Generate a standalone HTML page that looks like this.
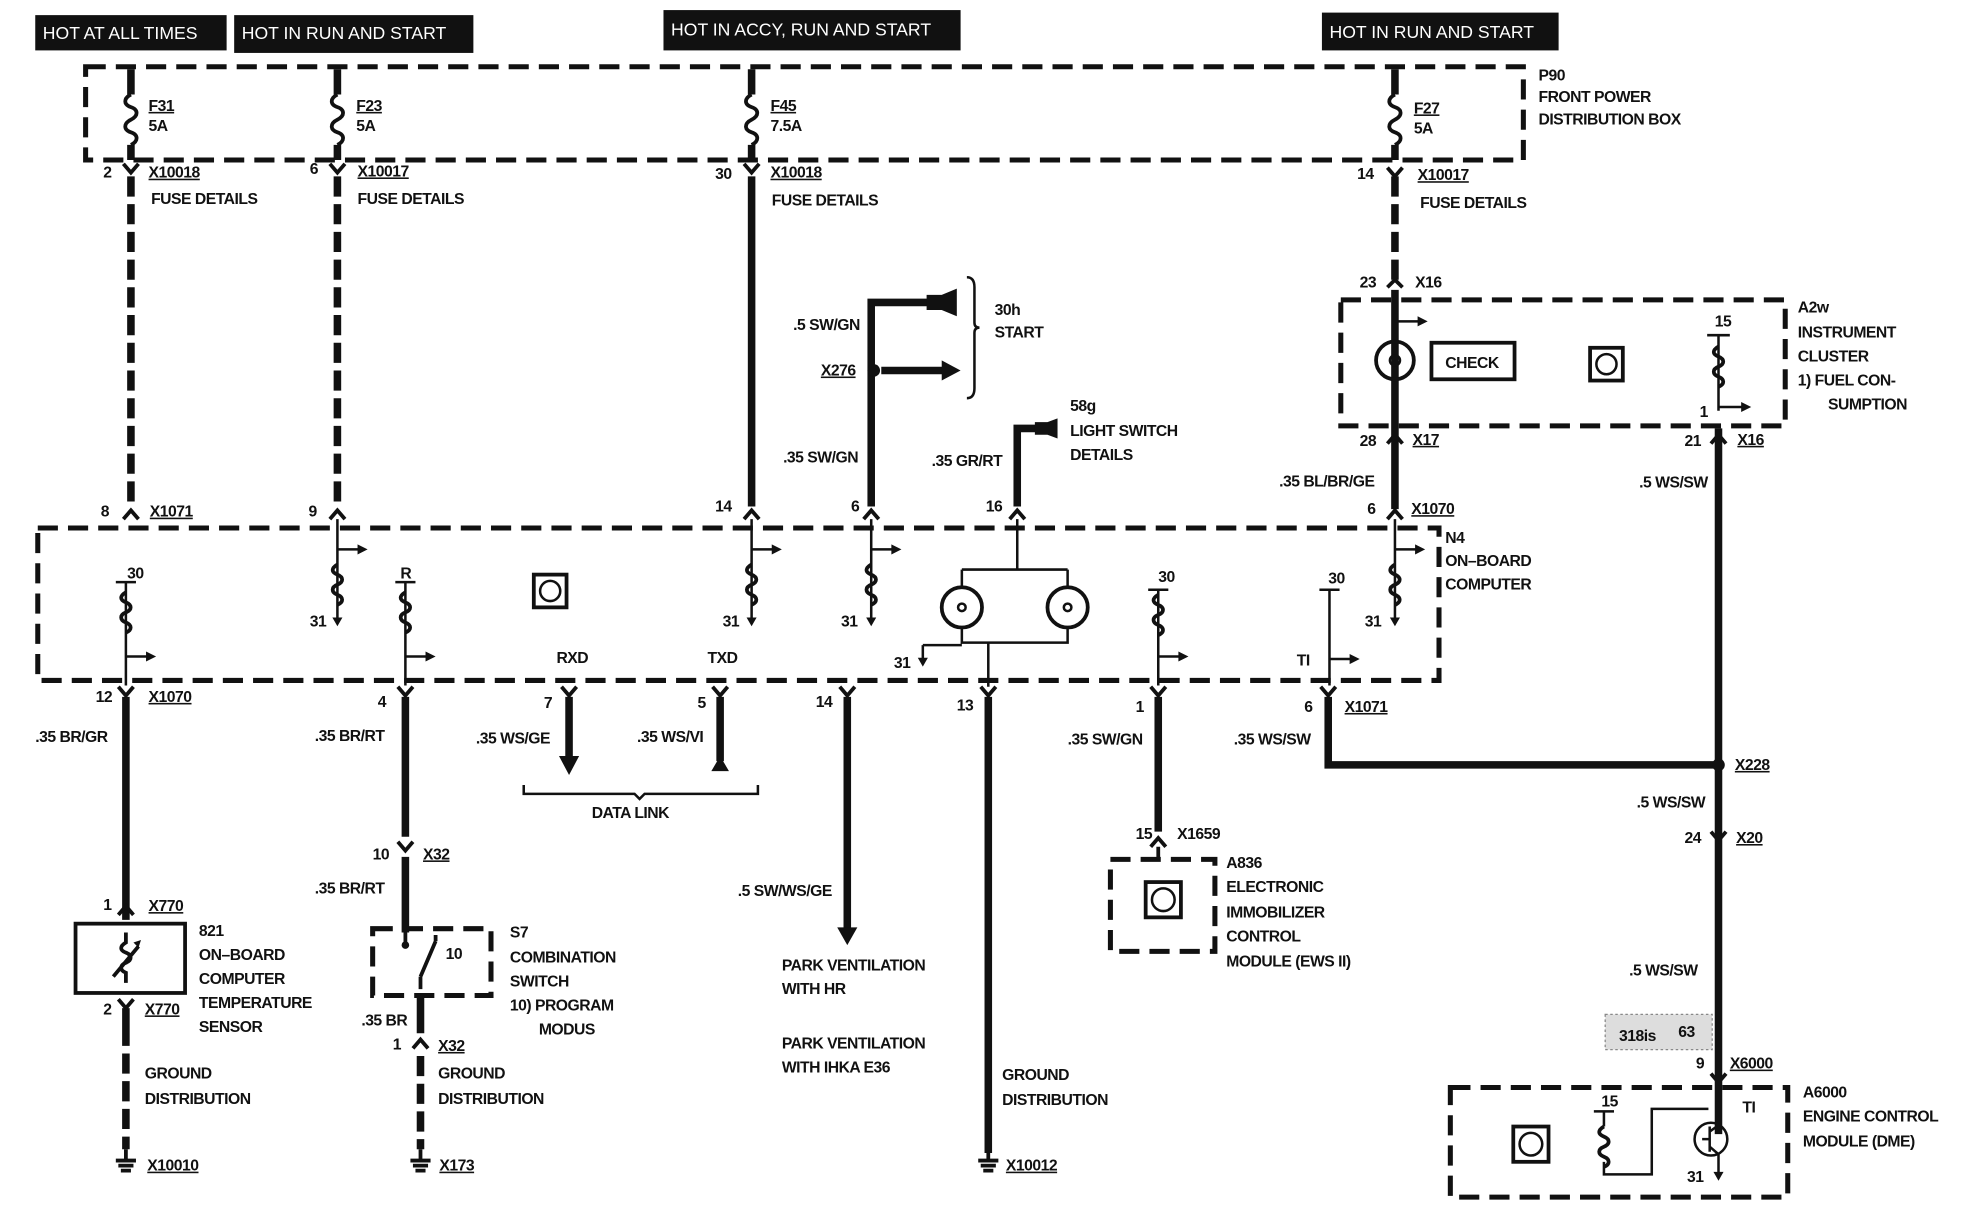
<!DOCTYPE html>
<html><head><meta charset="utf-8"><style>
html,body{margin:0;padding:0;background:#fff;}
svg{display:block;}
text{font-family:"Liberation Sans",Arial,sans-serif;font-size:12.5px;font-weight:bold;fill:#111;letter-spacing:-0.4px;}
.h{fill:#fff;font-size:14px;font-weight:normal;letter-spacing:0;}
.w{stroke:#111;stroke-width:6;fill:none;}
.wd{stroke:#111;stroke-width:6;fill:none;stroke-dasharray:16,6;}
.bx{stroke:#111;stroke-width:4;fill:none;stroke-dasharray:16,8;}
.t{stroke:#111;stroke-width:2;fill:none;}
.u{text-decoration:underline;}
</style></head><body>
<svg width="1964" height="1216" viewBox="0 0 1560 965" preserveAspectRatio="none" xmlns="http://www.w3.org/2000/svg">
<rect width="1560" height="965" fill="#fff"/>
<!-- headers -->
<rect x="28" y="12" width="152" height="28" fill="#111"/><text class="h" x="34" y="31">HOT AT ALL TIMES</text>
<rect x="186" y="12" width="190" height="30" fill="#111"/><text class="h" x="192" y="31">HOT IN RUN AND START</text>
<rect x="527" y="8" width="236" height="32" fill="#111"/><text class="h" x="533" y="28">HOT IN ACCY, RUN AND START</text>
<rect x="1050" y="10" width="188" height="30" fill="#111"/><text class="h" x="1056" y="30">HOT IN RUN AND START</text>
<!-- boxes -->
<rect class="bx" x="68" y="53" width="1142" height="74"/>
<rect class="bx" x="30" y="419" width="1113" height="121"/>
<rect class="bx" x="1065" y="238" width="353" height="100"/>
<rect class="bx" x="60" y="733" width="87" height="55" style="stroke-dasharray:none;stroke-width:3"/>
<rect class="bx" x="296" y="737" width="94" height="53"/>
<rect class="bx" x="882" y="682" width="83" height="73"/>
<rect class="bx" x="1152" y="863" width="268" height="87"/>
<!-- fuses -->
<g class="w">
<path d="M104 55V75M268 55V75M597 55V75M1108 55V75"/>
<path d="M104 115V127M268 115V127M597 115V127M1108 115V127"/>
</g>
<g class="t" style="stroke-width:3">
<path d="M104 75c-6 3-6 8 0 10s6 7 0 10s-6 8 0 10s6 7 0 10"/>
<path d="M268 75c-6 3-6 8 0 10s6 7 0 10s-6 8 0 10s6 7 0 10"/>
<path d="M597 75c-6 3-6 8 0 10s6 7 0 10s-6 8 0 10s6 7 0 10"/>
<path d="M1108 75c-6 3-6 8 0 10s6 7 0 10s-6 8 0 10s6 7 0 10"/>
</g>
<text x="118" y="88" class="u">F31</text><text x="118" y="104">5A</text>
<text x="283" y="88" class="u">F23</text><text x="283" y="104">5A</text>
<text x="612" y="88" class="u">F45</text><text x="612" y="104">7.5A</text>
<text x="1123" y="90" class="u">F27</text><text x="1123" y="106">5A</text>
<text x="1222" y="64">P90</text><text x="1222" y="81">FRONT POWER</text><text x="1222" y="99">DISTRIBUTION BOX</text>
<!-- fuse-detail connectors -->
<g class="t" style="stroke-width:3">
<path d="M98 130l6 7 6-7M262 130l6 7 6-7M591 130l6 7 6-7M1102 133l6 7 6-7M1102 228l6-6 6 6M1102 352l6-7 6 7M1359 352l6-7 6 7"/>
</g>
<text x="82" y="141">2</text><text x="118" y="141" class="u">X10018</text><text x="120" y="162">FUSE DETAILS</text>
<text x="246" y="138">6</text><text x="284" y="140" class="u">X10017</text><text x="284" y="162">FUSE DETAILS</text>
<text x="568" y="142">30</text><text x="612" y="141" class="u">X10018</text><text x="613" y="163">FUSE DETAILS</text>
<text x="1078" y="142">14</text><text x="1126" y="143" class="u">X10017</text><text x="1128" y="165">FUSE DETAILS</text>
<!-- verticals to N4 -->
<path class="wd" d="M104 140V402"/>
<path class="wd" d="M268 140V402"/>
<path class="w" d="M597 140V402"/>
<path class="wd" d="M1108 140V222"/>
<path class="w" d="M1108 230V404"/>
<!-- top pins of N4 -->
<g class="t" style="stroke-width:3"><path d="M98 412l6-7 6 7M262 412l6-7 6 7M591 412l6-7 6 7M686 412l6-7 6 7M802 412l6-7 6 7M1102 412l6-7 6 7"/></g>
<text x="80" y="410">8</text><text x="119" y="410" class="u">X1071</text>
<text x="245" y="410">9</text><text x="568" y="406">14</text><text x="676" y="406">6</text><text x="783" y="406">16</text>
<text x="1086" y="408">6</text><text x="1121" y="408" class="u">X1070</text>
<text x="1148" y="431">N4</text><text x="1148" y="449">ON–BOARD</text><text x="1148" y="468">COMPUTER</text>
<!-- 30h start -->
<path class="w" d="M692 402V240H738"/>
<path d="M736 234h12l12-5v22l-12-5h-12z" fill="#111"/>
<path class="w" d="M700 294h50"/><path d="M748 286l15 8-15 8z" fill="#111"/>
<circle cx="694" cy="294" r="5" fill="#111"/>
<path class="t" d="M768 220q6 0 6 8v28q0 4 4 4q-4 0-4 4v44q0 8-6 8"/>
<text x="790" y="250">30h</text><text x="790" y="268">START</text>
<text x="630" y="262">.5 SW/GN</text><text x="652" y="298" class="u">X276</text>
<text x="622" y="367">.35 SW/GN</text>
<!-- 58g -->
<path class="w" d="M808 402V340H826"/><path d="M822 335h10l8-3v16l-8-3h-10z" fill="#111"/>
<text x="850" y="326">58g</text><text x="850" y="346">LIGHT SWITCH</text><text x="850" y="365">DETAILS</text>
<text x="740" y="370">.35 GR/RT</text>
<!-- A2w content -->
<text x="1080" y="228">23</text><text x="1124" y="228">X16</text>
<path class="t" d="M1108 255h20"/><path d="M1126 251l8 4-8 4z" fill="#111"/>
<circle cx="1108" cy="286" r="15" class="t" style="stroke-width:3"/><circle cx="1108" cy="286" r="4" class="t"/>
<rect x="1137" y="272" width="66" height="29" class="t" style="stroke-width:3"/><text x="1148" y="292">CHECK</text>
<rect x="1263" y="276" width="26" height="26" class="t" style="stroke-width:3"/><circle cx="1276" cy="289" r="8" class="t"/>
<path class="t" d="M1356 266h18M1365 266v60"/>
<path class="t" style="stroke-width:3" d="M1365 275c-5 3-5 6 0 8s5 6 0 8s-5 6 0 8s5 6 0 8"/>
<path class="t" d="M1365 323h20"/><path d="M1383 319l8 4-8 4z" fill="#111"/>
<text x="1362" y="259">15</text><text x="1350" y="331">1</text>
<text x="1428" y="248">A2w</text><text x="1428" y="268">INSTRUMENT</text><text x="1428" y="287">CLUSTER</text><text x="1428" y="306">1)   FUEL CON-</text><text x="1452" y="325">SUMPTION</text>
<text x="1080" y="354">28</text><text x="1122" y="353" class="u">X17</text>
<text x="1338" y="354">21</text><text x="1380" y="353" class="u">X16</text>
<text x="1016" y="386">.35 BL/BR/GE</text><text x="1302" y="387">.5 WS/SW</text>
<path class="w" d="M1365 340V900"/>
<!-- N4 internals -->
<text x="436" y="468" class="t"></text>
<rect x="424" y="456" width="26" height="26" class="t" style="stroke-width:3"/><circle cx="437" cy="469" r="8" class="t"/>
<g class="t">
<path d="M92 462h16M100 462v82M314 462h16M322 462v82M912 468h16M920 468v76M1048 468h16M1056 468v76"/>
<path d="M268 412v80M597 412v80M692 412v80M1108 412v80"/>
</g>
<g class="t" style="stroke-width:3">
<path d="M100 470c-5 3-5 6 0 8s5 6 0 8s-5 6 0 8s5 6 0 8"/>
<path d="M322 470c-5 3-5 6 0 8s5 6 0 8s-5 6 0 8s5 6 0 8"/>
<path d="M920 472c-5 3-5 6 0 8s5 6 0 8s-5 6 0 8s5 6 0 8"/>
<path d="M268 448c-5 3-5 6 0 8s5 6 0 8s-5 6 0 8s5 6 0 8"/>
<path d="M597 448c-5 3-5 6 0 8s5 6 0 8s-5 6 0 8s5 6 0 8"/>
<path d="M692 448c-5 3-5 6 0 8s5 6 0 8s-5 6 0 8s5 6 0 8"/>
<path d="M1108 448c-5 3-5 6 0 8s5 6 0 8s-5 6 0 8s5 6 0 8"/>
</g>
<g class="t"><path d="M100 521h18M322 521h18M920 521h18M1056 523h18M268 436h18M597 436h18M692 436h18M1108 436h18"/></g>
<g fill="#111"><path d="M116 517l8 4-8 4zM338 517l8 4-8 4zM936 517l8 4-8 4zM1072 519l8 4-8 4zM284 432l8 4-8 4zM613 432l8 4-8 4zM708 432l8 4-8 4zM1124 432l8 4-8 4z"/>
<path d="M264 490h8l-4 7zM593 490h8l-4 7zM688 490h8l-4 7zM1104 490h8l-4 7zM729 522h8l-4 7z"/></g>
<text x="101" y="459">30</text><text x="318" y="459">R</text><text x="920" y="462">30</text><text x="1055" y="463">30</text>
<text x="246" y="497">31</text><text x="574" y="497">31</text><text x="668" y="497">31</text><text x="1084" y="497">31</text><text x="710" y="530">31</text>
<text x="442" y="526">RXD</text><text x="562" y="526">TXD</text><text x="1030" y="528">TI</text>
<!-- light bulbs -->
<path class="t" d="M808 412v40M764 452h84M764 452v13M848 452v13M764 498v12H848v-12M785 510v35M733 512v12M733 512h31"/>
<circle cx="764" cy="482" r="16" class="t" style="stroke-width:3"/><circle cx="848" cy="482" r="16" class="t" style="stroke-width:3"/>
<circle cx="764" cy="482" r="3" class="t"/><circle cx="848" cy="482" r="3" class="t"/>
<!-- bottom pins -->
<g class="t" style="stroke-width:3"><path d="M94 545l6 7 6-7M316 545l6 7 6-7M446 545l6 7 6-7M566 545l6 7 6-7M667 545l6 7 6-7M779 545l6 7 6-7M914 545l6 7 6-7M1049 545l6 7 6-7"/></g>
<text x="76" y="557">12</text><text x="118" y="557" class="u">X1070</text>
<text x="300" y="561">4</text><text x="432" y="562">7</text><text x="554" y="562">5</text><text x="648" y="561">14</text><text x="760" y="564">13</text><text x="902" y="565">1</text><text x="1036" y="565">6</text><text x="1068" y="565" class="u">X1071</text>
<path class="w" d="M100 553V730"/><path class="w" d="M322 553V664"/><path class="w" d="M452 553V602"/><path d="M444 600h16l-8 15z" fill="#111"/>
<path class="w" d="M572 553V604"/><path d="M565 612h14l-7-12z" fill="#111"/>
<path class="w" d="M673 553V738"/><path d="M665 736h16l-8 14z" fill="#111"/>
<path class="w" d="M785 553V915"/><path class="w" d="M920 553V660"/>
<path class="w" d="M1055 553V607H1365"/><circle cx="1365" cy="607" r="5" fill="#111"/>
<text x="28" y="589">.35 BR/GR</text><text x="250" y="588">.35 BR/RT</text><text x="378" y="590">.35 WS/GE</text><text x="506" y="589">.35 WS/VI</text><text x="848" y="591">.35 SW/GN</text><text x="980" y="591">.35 WS/SW</text>
<path class="t" d="M416 623v7h88l4 4 4-4h90v-7"/><text x="470" y="649">DATA LINK</text>
<text x="1378" y="611" class="u">X228</text><text x="1300" y="641">.5 WS/SW</text><text x="1338" y="669">24</text><text x="1379" y="669" class="u">X20</text>
<path class="t" style="stroke-width:3" d="M1359 660l6 7 6-7"/>
<!-- temperature sensor -->
<text x="82" y="722">1</text><text x="118" y="723" class="u">X770</text>
<path class="t" style="stroke-width:3" d="M94 726l6 -7 6 7M94 793l6 7 6-7"/>
<path class="t" style="stroke-width:3" d="M100 740v8c-5 3-5 6 0 8s5 6 0 8s-5 6 0 8v8M90 775l20-24"/>
<path d="M106 748l6-2-2 6z" fill="#111"/>
<text x="158" y="743">821</text><text x="158" y="762">ON–BOARD</text><text x="158" y="781">COMPUTER</text><text x="158" y="800">TEMPERATURE</text><text x="158" y="819">SENSOR</text>
<text x="82" y="805">2</text><text x="115" y="805" class="u">X770</text>
<path class="w" d="M100 800V830"/><path class="wd" d="M100 836V912"/>
<text x="115" y="856">GROUND</text><text x="115" y="876">DISTRIBUTION</text>
<path class="t" style="stroke-width:3" d="M100 912v8M92 921h16M94 925h12M96 929h8"/><text x="117" y="929" class="u">X10010</text>
<!-- combination switch -->
<text x="296" y="682">10</text><text x="336" y="682" class="u">X32</text><text x="250" y="709">.35 BR/RT</text>
<path class="t" style="stroke-width:3" d="M316 668l6 7 6-7"/>
<path class="w" d="M322 680V740"/>
<path class="t" style="stroke-width:3" d="M322 740v8M334 775l12-28M346 747v-5M334 775v10"/>
<circle cx="322" cy="750" r="3" fill="#111"/><text x="354" y="761">10</text>
<text x="405" y="744">S7</text><text x="405" y="764">COMBINATION</text><text x="405" y="783">SWITCH</text><text x="405" y="802">10) PROGRAM</text><text x="428" y="821">MODUS</text>
<text x="287" y="814">.35 BR</text><text x="312" y="833">1</text><text x="348" y="834" class="u">X32</text>
<path class="w" d="M334 790V820"/><path class="t" style="stroke-width:3" d="M328 832l6-7 6 7"/><path class="wd" d="M334 838V912"/>
<text x="348" y="856">GROUND</text><text x="348" y="876">DISTRIBUTION</text>
<path class="t" style="stroke-width:3" d="M334 912v8M326 921h16M328 925h12M330 929h8"/><text x="349" y="929" class="u">X173</text>
<!-- park ventilation -->
<text x="586" y="711">.5 SW/WS/GE</text>
<text x="621" y="770">PARK VENTILATION</text><text x="621" y="789">WITH HR</text>
<text x="621" y="832">PARK VENTILATION</text><text x="621" y="851">WITH IHKA E36</text>
<text x="796" y="857">GROUND</text><text x="796" y="877">DISTRIBUTION</text>
<path class="t" style="stroke-width:3" d="M785 915v5M777 921h16M779 925h12M781 929h8"/><text x="799" y="929" class="u">X10012</text>
<!-- A836 -->
<text x="902" y="666">15</text><text x="935" y="666">X1659</text><path class="t" style="stroke-width:3" d="M914 672l6-7 6 7M920 672v10"/>
<rect x="910" y="700" width="28" height="28" class="t" style="stroke-width:3"/><circle cx="924" cy="714" r="9" class="t"/>
<text x="974" y="689">A836</text><text x="974" y="708">ELECTRONIC</text><text x="974" y="728">IMMOBILIZER</text><text x="974" y="747">CONTROL</text><text x="974" y="767">MODULE (EWS II)</text>
<!-- A6000 -->
<text x="1294" y="774">.5 WS/SW</text>
<rect x="1275" y="805" width="85" height="28" fill="#ddd" stroke="#888" stroke-dasharray="2,2"/><text x="1286" y="826">318is</text><text x="1333" y="823">63</text>
<text x="1347" y="848">9</text><text x="1374" y="848" class="u">X6000</text><path class="t" style="stroke-width:3" d="M1359 852l6 7 6-7"/>
<rect x="1202" y="894" width="28" height="28" class="t" style="stroke-width:3"/><circle cx="1216" cy="908" r="9" class="t"/>
<path class="t" d="M1266 882h16M1274 882v12M1274 922v10H1312V880H1357"/>
<path class="t" style="stroke-width:3" d="M1274 894c-5 3-5 6 0 8s5 6 0 8s-5 6 0 8s5 6 0 8"/>
<circle cx="1359" cy="904" r="13" class="t"/><path class="t" d="M1352 904h6M1358 894v20M1358 898l7-5M1358 910l7 6M1365 916v16"/>
<path d="M1361 930h8l-4 7z" fill="#111"/>
<text x="1272" y="878">15</text><text x="1384" y="883">TI</text><text x="1340" y="938">31</text>
<text x="1432" y="871">A6000</text><text x="1432" y="890">ENGINE CONTROL</text><text x="1432" y="910">MODULE (DME)</text>
</svg>
</body></html>
